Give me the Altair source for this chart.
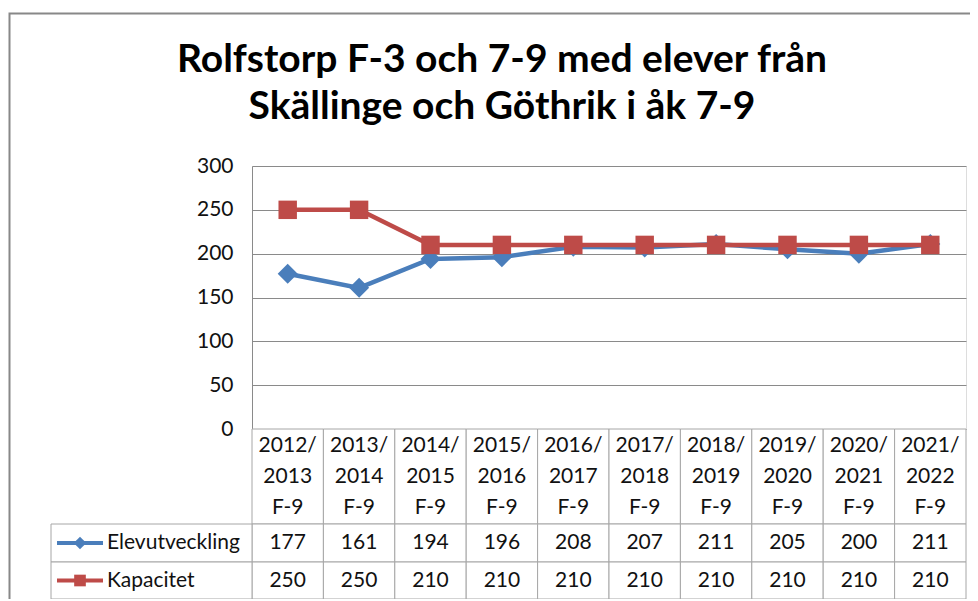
import altair as alt
import pandas as pd

# ---- data ----
periods = ["2012/2013 F-9", "2013/2014 F-9", "2014/2015 F-9", "2015/2016 F-9",
           "2016/2017 F-9", "2017/2018 F-9", "2018/2019 F-9", "2019/2020 F-9",
           "2020/2021 F-9", "2021/2022 F-9"]
header_labels = ["2012/\n2013\nF-9", "2013/\n2014\nF-9", "2014/\n2015\nF-9", "2015/\n2016\nF-9",
                 "2016/\n2017\nF-9", "2017/\n2018\nF-9", "2018/\n2019\nF-9", "2019/\n2020\nF-9",
                 "2020/\n2021\nF-9", "2021/\n2022\nF-9"]
elevutveckling = [177, 161, 194, 196, 208, 207, 211, 205, 200, 211]
kapacitet = [250, 250, 210, 210, 210, 210, 210, 210, 210, 210]
series_names = ["Elevutveckling", "Kapacitet"]
series_colors = ["#4A7EBB", "#BE4B48"]
series_shapes = ["diamond", "square"]
series_sizes = [400, 340]
y_ticks = [0, 50, 100, 150, 200, 250, 300]
title_text = "Rolfstorp F-3 och 7-9 med elever från\nSkällinge och Göthrik i åk 7-9"

FONT = "Lato"
W, H = 714, 263
GRID = "#8A8A8A"
TABLE = "#A6A6A6"
# table layout (pixels relative to plot area)
header_top, header_bot = H, 358
row_edges = {"Elevutveckling": (358, 396), "Kapacitet": (396, 433)}
legend_left = -201

rows = []
for name, vals in zip(series_names, [elevutveckling, kapacitet]):
    for p, h, v in zip(periods, header_labels, vals):
        rows.append({"period": p, "header": h, "series": name, "value": v})
df = pd.DataFrame(rows)
hdr = pd.DataFrame({"period": periods, "header": header_labels})

x_enc = alt.X("period:N", sort=periods,
              scale=alt.Scale(paddingInner=0, paddingOuter=0), axis=None)

base = alt.Chart(df)
one = alt.Chart(pd.DataFrame({"title": [title_text]}))

# outer chart frame
frame = one.mark_rect(fill=None, stroke="#888888", strokeWidth=2).encode(
    x=alt.value(-242.5), x2=alt.value(W + 60), y=alt.value(-152.5), y2=alt.value(H + 250))

title = one.mark_text(font=FONT, fontSize=39, fontWeight="bold", lineBreak="\n",
                      lineHeight=47, align="center", baseline="alphabetic",
                      color="#000").encode(x=alt.value(250), y=alt.value(-94), text="title:N")

layers = [frame, title]

y_enc = alt.Y("value:Q", scale=alt.Scale(domain=[0, 300], nice=False),
              axis=alt.Axis(values=y_ticks, title=None, ticks=False, labelFont=FONT,
                            labelFontSize=21, labelColor="#111", labelPadding=19,
                            domainColor=GRID, gridColor=GRID, gridWidth=1))

# header cells and text
layers.append(alt.Chart(hdr).mark_rect(fill="white", stroke=TABLE, strokeWidth=1).encode(
    x=x_enc, y=alt.value(header_top), y2=alt.value(header_bot)))
layers.append(alt.Chart(hdr).mark_text(font=FONT, fontSize=21, lineBreak="\n", lineHeight=31,
                                       baseline="middle", color="#111").encode(
    x=x_enc, y=alt.value(280), text="header:N"))

for name, color, shape, size in zip(series_names, series_colors, series_shapes, series_sizes):
    top, bot = row_edges[name]
    mid = (top + bot) / 2
    sub = base.transform_filter(alt.datum.series == name)
    # table cells
    layers.append(sub.mark_rect(fill="white", stroke=TABLE, strokeWidth=1).encode(
        x=x_enc, y=alt.value(top), y2=alt.value(bot)))
    layers.append(sub.mark_text(font=FONT, fontSize=21, baseline="middle", color="#111").encode(
        x=x_enc, y=alt.value(mid), text="value:Q"))
    # legend column cell
    lab = alt.Chart(pd.DataFrame({"series": [name]}))
    layers.append(lab.mark_rect(fill="white", stroke=TABLE, strokeWidth=1).encode(
        x=alt.value(legend_left), x2=alt.value(0), y=alt.value(top), y2=alt.value(bot)))
    layers.append(lab.mark_rule(color=color, strokeWidth=4).encode(
        x=alt.value(-195), x2=alt.value(-149), y=alt.value(mid)))
    layers.append(lab.mark_point(filled=True, opacity=1, color=color, shape=shape,
                                 size=size * 0.4).encode(
        x=alt.value(-172), y=alt.value(mid)))
    layers.append(lab.mark_text(font=FONT, fontSize=21, align="left", baseline="middle",
                                color="#111").encode(
        x=alt.value(-145), y=alt.value(mid), text="series:N"))

# series lines and markers
for name, color, shape, size in zip(series_names, series_colors, series_shapes, series_sizes):
    sub = base.transform_filter(alt.datum.series == name)
    layers.append(sub.mark_line(color=color, strokeWidth=4.5).encode(x=x_enc, y=y_enc))
    layers.append(sub.mark_point(filled=True, opacity=1, color=color, shape=shape,
                                 size=size).encode(x=x_enc, y=y_enc))

chart = alt.layer(*layers).properties(
    width=W, height=H,
    autosize=alt.AutoSizeParams(type="none"),
    padding={"left": 244, "top": 158, "right": 4, "bottom": 170},
).configure_view(stroke=None).configure(background="white")

chart.save("out.html", embed_options={"renderer": "svg", "actions": False})
